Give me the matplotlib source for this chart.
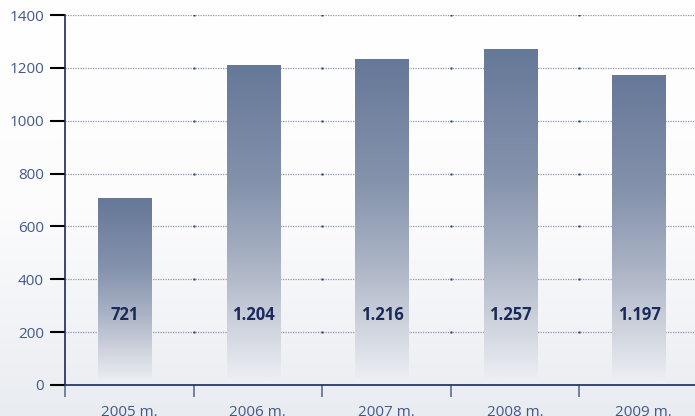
import matplotlib
matplotlib.use("Agg")
import matplotlib.pyplot as plt
import numpy as np
from matplotlib.colors import LinearSegmentedColormap, to_rgb

years = ["2005 m.", "2006 m.", "2007 m.", "2008 m.", "2009 m."]
bar_heights = [707, 1211, 1233, 1271, 1173]   # heights as drawn
bar_labels = ["721", "1.204", "1.216", "1.257", "1.197"]
y_ticks = [0, 200, 400, 600, 800, 1000, 1200, 1400]

navy = "#1a2a5a"
label_col = "#44598a"

plt.rcParams["font.family"] = ["Open Sans", "DejaVu Sans"]

fig = plt.figure(figsize=(6.95, 4.16), dpi=100)

# background gradient
bg = fig.add_axes([0, 0, 1, 1], zorder=-10)
bg_cmap = LinearSegmentedColormap.from_list("bg", ["#ffffff", "#fcfcfd", "#e9ecf1"])
bg.imshow(np.linspace(0, 1, 256).reshape(-1, 1), cmap=bg_cmap, aspect="auto",
          extent=[0, 1, 0, 1], origin="upper")
bg.axis("off")

ax = fig.add_axes([65 / 695, 31 / 416, 630 / 695, 370 / 416])
ax.patch.set_alpha(0)
ax.set_xlim(0, 4.9)
ax.set_ylim(0, 1400)

# dotted grid with small darker dots at category boundaries
for yv in y_ticks[1:]:
    ax.plot([0, 4.9], [yv, yv], color="#8a97b5", lw=0.9, ls=(0, (1, 1)), zorder=1)
    ax.plot(np.arange(1, 5), [yv] * 4, ls="none", marker="s", ms=1.6,
            color="#2a3c6a", mec="none", zorder=1)

# bars with vertical gradient
bar_cmap = LinearSegmentedColormap.from_list(
    "bar", [(0.0, "#eef0f4"), (0.12, "#d8dce4"), (0.38, "#a9b2c4"),
            (0.62, "#8492ac"), (1.0, "#667898")])
grad = np.linspace(1, 0, 256).reshape(-1, 1)
xpos = np.arange(len(years)) + 0.467
bars = ax.bar(xpos, bar_heights, width=0.42, bottom=0, color="none",
              edgecolor="none", zorder=2)
for b, lab in zip(bars, bar_labels):
    x0, w, h = b.get_x(), b.get_width(), b.get_height()
    im = ax.imshow(grad, cmap=bar_cmap, aspect="auto", extent=[x0, x0 + w, 7, h],
                   zorder=2, vmin=0, vmax=1)
    im.set_clip_path(b)
    ax.text(x0 + w / 2, 266, lab, ha="center", va="center", fontsize=12,
            fontweight="bold", color=navy, zorder=3)
ax.set_xlim(0, 4.9)
ax.set_ylim(0, 1400)

# axes styling
for s in ["top", "right"]:
    ax.spines[s].set_visible(False)
ax.spines["left"].set_color(navy)
ax.spines["bottom"].set_color(navy)
ax.spines["left"].set_linewidth(1.2)
ax.spines["bottom"].set_linewidth(1.2)

ax.set_yticks(y_ticks)
ax.set_yticklabels([str(v) for v in y_ticks])
ax.tick_params(axis="y", length=10.8, width=1.5, pad=4.3, labelsize=11,
               labelcolor=label_col)
top_c, bot_c = np.array(to_rgb("#7383a2")), np.array(to_rgb(navy))
for t, v in zip(ax.yaxis.get_major_ticks(), y_ticks):
    f = v / 1400
    t.tick1line.set_color(tuple(bot_c + (top_c - bot_c) * f))

ax.set_xticks(np.arange(0, 5))
ax.set_xticklabels([])
ax.set_xticks(np.arange(len(years)) + 0.5, minor=True)
ax.set_xticklabels(years, minor=True)
ax.tick_params(axis="x", which="major", length=8.6, width=1.3, color="#6a7a95")
ax.tick_params(axis="x", which="minor", length=0, pad=14.5, labelsize=11,
               labelcolor=label_col)
ax.xaxis.get_major_ticks()[0].tick1line.set_color(navy)

fig.savefig("out.png", dpi=100)
